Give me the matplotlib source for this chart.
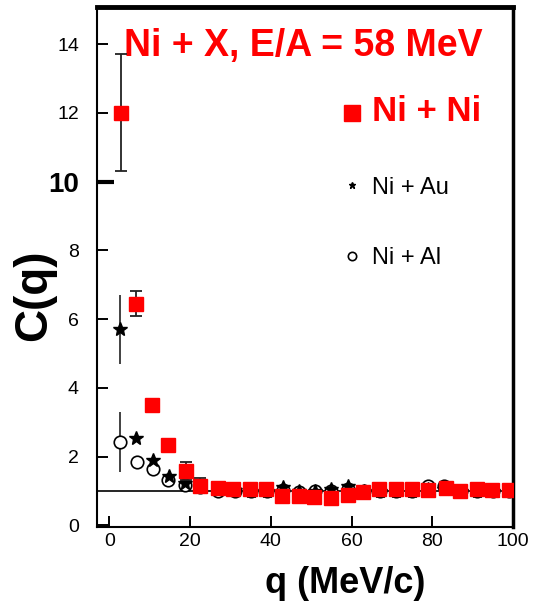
import matplotlib.pyplot as plt
from matplotlib.lines import Line2D

# --- data ---
q_nini = [2.8, 6.5, 10.5, 14.5, 18.9, 22.4, 26.9, 30.6, 34.8, 38.8, 42.7, 47.0, 50.7,
          54.8, 59.0, 62.8, 66.7, 70.9, 75.0, 79.0, 83.3, 86.8, 91.0, 94.7, 99.0]
c_nini = [12.0, 6.45, 3.5, 2.35, 1.58, 1.15, 1.09, 1.06, 1.06, 1.06, 0.86, 0.86, 0.83,
          0.80, 0.89, 0.97, 1.06, 1.06, 1.06, 1.03, 1.09, 1.00, 1.06, 1.03, 1.03]
e_nini = [1.7, 0.37, 0.15, 0.1, 0.27, 0.22, 0.05, 0.05, 0.05, 0.05, 0.05, 0.05, 0.05,
          0.05, 0.05, 0.05, 0.05, 0.05, 0.05, 0.12, 0.12, 0.05, 0.05, 0.05, 0.05]

q_niau = [2.6, 6.5, 10.8, 14.7, 18.7, 22.5, 27.0, 31.0, 35.0, 39.0, 43.0, 47.0, 51.0,
          55.0, 59.0, 63.0, 67.0, 71.0, 75.0, 79.0, 83.0, 87.0, 91.0, 95.0, 99.0]
c_niau = [5.7, 2.55, 1.9, 1.44, 1.24, 1.1, 1.05, 1.02, 1.0, 1.0, 1.1, 1.0, 1.0,
          1.05, 1.15, 1.0, 1.0, 1.0, 1.0, 1.05, 1.05, 1.0, 1.0, 1.0, 1.0]
e_niau = [1.0, 0.1, 0.1, 0.05, 0.05, 0.05, 0.05, 0.05, 0.05, 0.05, 0.05, 0.05, 0.05,
          0.05, 0.05, 0.05, 0.05, 0.05, 0.05, 0.05, 0.05, 0.05, 0.05, 0.05, 0.05]

q_nial = [2.6, 6.8, 10.8, 14.5, 18.7, 22.5, 27.0, 31.0, 35.0, 39.0, 43.0, 47.0, 51.0,
          55.0, 59.0, 63.0, 67.0, 71.0, 75.0, 79.0, 83.0, 87.0, 91.0, 95.0, 99.0]
c_nial = [2.43, 1.85, 1.64, 1.32, 1.18, 1.1, 1.0, 1.0, 1.0, 1.0, 1.02, 0.98, 1.0,
          1.0, 1.05, 1.0, 1.0, 1.0, 1.0, 1.15, 1.15, 1.0, 1.0, 1.0, 1.0]
e_nial = [0.87, 0.1, 0.08, 0.05, 0.05, 0.05, 0.05, 0.05, 0.05, 0.05, 0.05, 0.05, 0.05,
          0.05, 0.05, 0.05, 0.05, 0.05, 0.05, 0.05, 0.05, 0.05, 0.05, 0.05, 0.05]

x_ticks = [0, 20, 40, 60, 80, 100]
y_ticks = [0, 2, 4, 6, 8, 10, 12, 14]

RED = '#ff0000'
plt.rcParams['font.family'] = ['Liberation Sans', 'DejaVu Sans']

fig = plt.figure(figsize=(5.34, 6.08), dpi=100)
ax = fig.add_axes([0.1816, 0.1332, 0.779, 0.8553])

# reference line C(q) = 1
ax.axhline(1.0, color='black', lw=1.2, zorder=1)

ax.errorbar(q_nial, c_nial, yerr=e_nial, fmt='o', ms=9, mfc='white', mec='black',
            mew=1.2, ecolor='#333333', elinewidth=1.3, capsize=0, zorder=2)
ax.errorbar(q_niau, c_niau, yerr=e_niau, fmt='*', ms=10, color='black',
            ecolor='#333333', elinewidth=1.3, capsize=0, zorder=3)
ax.errorbar(q_nini, c_nini, yerr=e_nini, fmt='s', ms=10, color=RED, mec=RED,
            ecolor='#222222', elinewidth=1.3, capsize=4, capthick=1.3, zorder=4)

ax.set_xlim(-3.1, 100)
ax.set_ylim(-0.05, 15.08)
ax.set_xticks(x_ticks)
ax.set_yticks(y_ticks)
ax.tick_params(direction='in', length=8, width=1.4, labelsize=14)
ax.tick_params(axis='y', pad=13)
ax.tick_params(axis='x', pad=4)

# the "10" label is drawn bold and bigger
lab10 = ax.get_yticklabels()[5]
lab10.set_fontsize(20)
lab10.set_fontweight('bold')
tick10 = ax.yaxis.get_major_ticks()[5]
tick10.tick1line.set_markersize(12)
tick10.tick1line.set_markeredgewidth(3)

for side, lw in [('left', 1.5), ('bottom', 1.5), ('right', 2.5), ('top', 3.5)]:
    ax.spines[side].set_linewidth(lw)

ax.set_xlabel('q (MeV/c)', fontsize=26, fontweight='bold')
ax.xaxis.set_label_coords(0.596, -0.075)
ax.set_ylabel('C(q)', fontsize=33, fontweight='bold')
ax.yaxis.set_label_coords(-0.098, 0.446)

ax.text(0.496, 0.925, 'Ni + X, E/A = 58 MeV', transform=ax.transAxes, color=RED,
        fontsize=27, fontweight='bold', ha='center', va='center')

handles = [
    Line2D([], [], ls='none', marker='s', ms=11, color=RED),
    Line2D([], [], ls='none', marker='*', ms=5, color='black'),
    Line2D([], [], ls='none', marker='o', ms=6, mfc='white', mec='black', mew=1.2),
]
leg = ax.legend(handles, ['Ni + Ni', 'Ni + Au', 'Ni + Al'], loc='upper left',
                bbox_to_anchor=(0.54, 0.871), frameon=False, fontsize=17,
                handlelength=0.8, handletextpad=0.45, labelspacing=2.05)
t0 = leg.get_texts()[0]
t0.set_color(RED)
t0.set_fontsize(25)
t0.set_fontweight('bold')

fig.savefig('out.png', dpi=100)
